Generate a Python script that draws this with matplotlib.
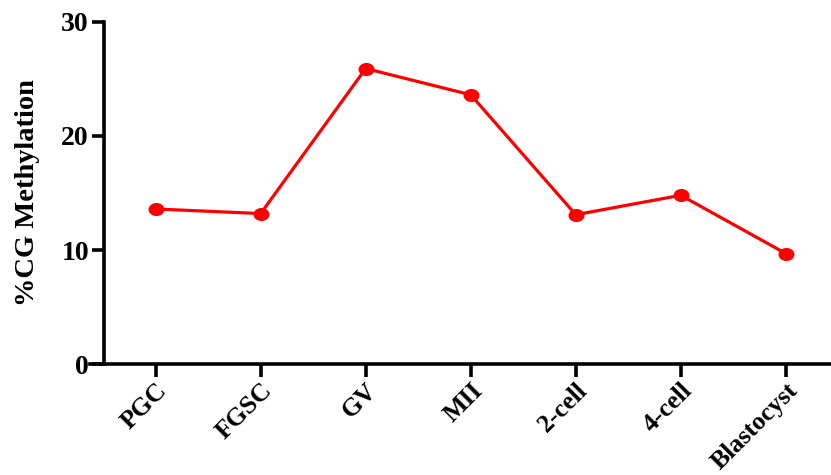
import matplotlib
matplotlib.use("Agg")
import matplotlib.pyplot as plt
from matplotlib.path import Path
from matplotlib.transforms import Affine2D

stages = ["PGC", "FGSC", "GV", "MII", "2-cell", "4-cell", "Blastocyst"]
methylation = [13.6, 13.2, 25.9, 23.6, 13.1, 14.8, 9.7]
y_ticks = [0, 10, 20, 30]

plt.rcParams['font.family'] = ['Liberation Serif', 'DejaVu Serif']
plt.rcParams['font.weight'] = 'bold'

fig = plt.figure(figsize=(8.31, 4.75), dpi=100)
ax = fig.add_axes([90/831, 1 - 364.3/475, 1 - 90/831, (364.3 - 21.7)/475])

for s in ['top', 'right']:
    ax.spines[s].set_visible(False)
ax.spines['left'].set_position(('data', -0.49))
for s in ['left', 'bottom']:
    ax.spines[s].set_linewidth(2.6)
    ax.spines[s].set_color('black')

ellipse = Path.unit_circle().transformed(Affine2D().scale(1.25, 1.0))

x = list(range(len(stages)))
ax.plot(x, methylation, color='#ff0000', lw=2.3, marker=ellipse, markersize=10.5,
        markeredgecolor='#ff0000', solid_capstyle='round', clip_on=False, zorder=3)

ax.set_xlim(-0.625, 6.43)
ax.set_ylim(0, 30)
ax.set_yticks(y_ticks)
ax.set_xticks(x)
ax.set_xticklabels(stages, rotation=45, ha='right', rotation_mode='anchor',
                   fontsize=18.5, fontweight='bold')
ax.set_yticklabels([str(t) for t in y_ticks], fontsize=20, fontweight='bold')

ax.tick_params(axis='both', width=2.6, length=9, color='black')
ax.tick_params(axis='x', pad=1.5)
ax.tick_params(axis='y', pad=2)

ax.set_ylabel('%CG Methylation', fontsize=20.5, fontweight='bold', labelpad=15)

fig.savefig('out.png', dpi=100, facecolor='white')
